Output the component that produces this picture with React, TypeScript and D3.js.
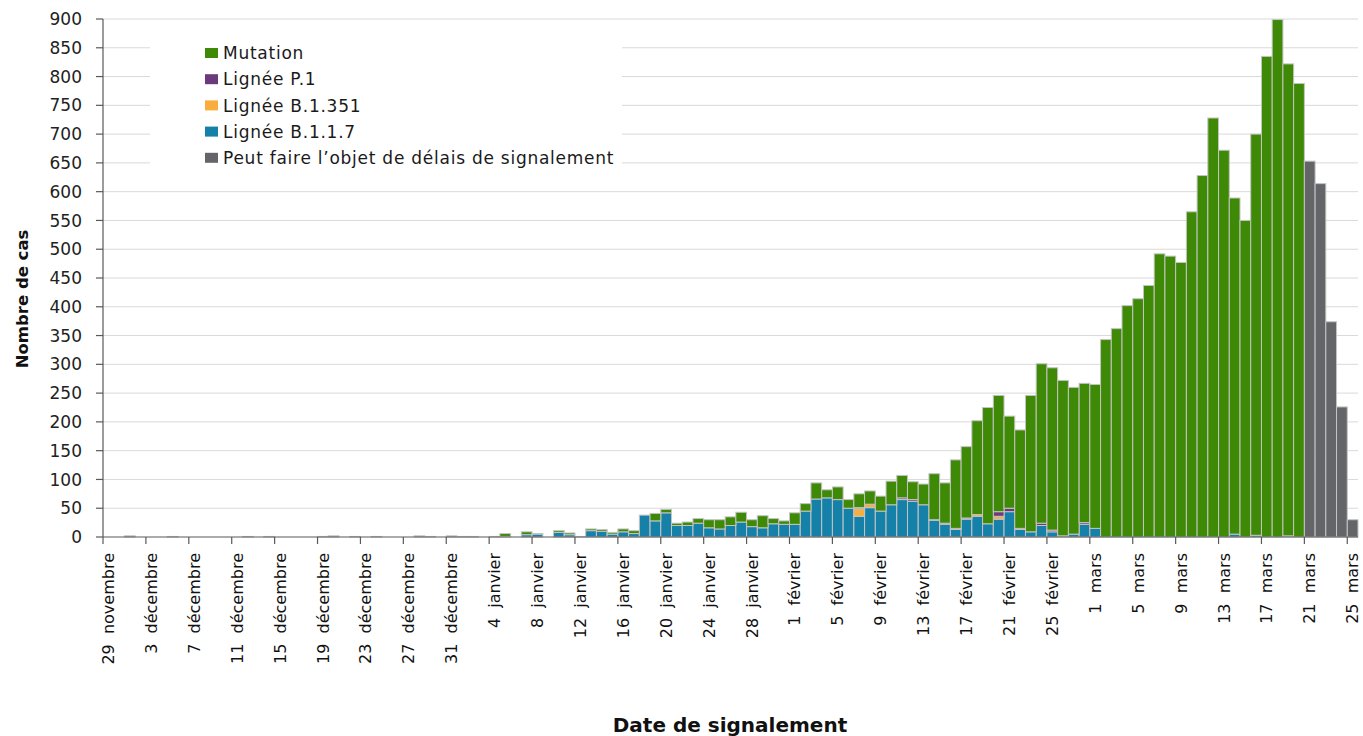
import React from 'react';
import * as d3 from 'd3';

// Daily counts, 29 novembre 2020 -> 25 mars 2021 (117 days)
const startDay = new Date(2020, 10, 29);
const dayCount = 117;

const monthNames = ['janvier', 'février', 'mars', 'avril', 'mai', 'juin', 'juillet', 'août', 'septembre', 'octobre', 'novembre', 'décembre'];

const b117 = [
  0, 0, 2, 0, 0, 0, 1, 0, 0, 0,
  0, 0, 0, 1, 0, 1, 0, 0, 0, 0,
  1, 2, 0, 1, 0, 1, 0, 0, 0, 2,
  1, 0, 2, 1, 1, 0, 1, 1, 0, 4,
  5, 0, 8, 4, 1, 11, 10, 5, 9, 6,
  38, 28, 42, 20, 20, 24, 16, 14, 20, 26,
  18, 16, 23, 22, 22, 45, 66, 68, 65, 50,
  36, 51, 45, 56, 65, 62, 56, 29, 22, 13,
  31, 36, 23, 31, 44, 13, 9, 20, 9, 2,
  5, 22, 15, 0, 0, 0, 0, 0, 0, 0,
  0, 0, 0, 0, 0, 5, 0, 3, 0, 0,
  2, 0, 0, 0, 0, 0, 0,
];

const b1351 = [
  0, 0, 0, 0, 0, 0, 0, 0, 0, 0,
  0, 0, 0, 0, 0, 0, 0, 0, 0, 0,
  0, 0, 0, 0, 0, 0, 0, 0, 0, 0,
  0, 0, 0, 0, 0, 0, 0, 0, 0, 0,
  0, 0, 0, 0, 0, 0, 0, 0, 0, 0,
  0, 0, 0, 0, 0, 0, 0, 0, 0, 0,
  0, 0, 0, 0, 0, 0, 0, 0, 0, 0,
  13, 6, 0, 0, 0, 0, 0, 0, 0, 0,
  0, 3, 0, 5, 0, 0, 0, 0, 0, 0,
  0, 0, 0, 0, 0, 0, 0, 0, 0, 0,
  0, 0, 0, 0, 0, 0, 0, 0, 0, 0,
  0, 0, 0, 0, 0, 0, 0,
];

const p1 = [
  0, 0, 0, 0, 0, 0, 0, 0, 0, 0,
  0, 0, 0, 0, 0, 0, 0, 0, 0, 0,
  0, 0, 0, 0, 0, 0, 0, 0, 0, 0,
  0, 0, 0, 0, 0, 0, 0, 0, 0, 0,
  0, 0, 0, 0, 0, 0, 0, 0, 0, 0,
  0, 0, 0, 0, 0, 0, 0, 0, 0, 0,
  0, 0, 0, 0, 0, 0, 0, 0, 0, 0,
  2, 0, 0, 0, 3, 3, 0, 1, 2, 2,
  2, 0, 0, 8, 6, 2, 0, 4, 3, 0,
  0, 3, 0, 0, 0, 0, 0, 0, 0, 0,
  0, 0, 0, 0, 0, 0, 0, 0, 0, 0,
  0, 0, 0, 0, 0, 0, 0,
];

const mutation = [
  0, 0, 0, 0, 0, 0, 0, 0, 0, 0,
  0, 0, 0, 0, 0, 0, 0, 0, 0, 0,
  0, 0, 0, 0, 0, 0, 0, 0, 0, 0,
  0, 0, 0, 0, 0, 0, 0, 5, 0, 5,
  1, 0, 3, 3, 0, 3, 3, 3, 5, 5,
  0, 13, 6, 4, 6, 8, 14, 16, 15, 17,
  12, 21, 9, 6, 20, 13, 28, 14, 22, 15,
  24, 23, 26, 41, 39, 31, 36, 80, 70, 119,
  124, 163, 202, 202, 160, 171, 237, 277, 282, 270,
  255, 242, 250, 343, 362, 402, 414, 437, 492, 488,
  477, 565, 628, 728, 672, 584, 550, 697, 835, 899,
  820, 788, 0, 0, 0, 0, 0,
];

const delay = [
  0, 0, 0, 0, 0, 0, 0, 0, 0, 0,
  0, 0, 0, 0, 0, 0, 0, 0, 0, 0,
  0, 0, 0, 0, 0, 0, 0, 0, 0, 0,
  0, 0, 0, 0, 0, 0, 0, 0, 0, 0,
  0, 0, 0, 0, 0, 0, 0, 0, 0, 0,
  0, 0, 0, 0, 0, 0, 0, 0, 0, 0,
  0, 0, 0, 0, 0, 0, 0, 0, 0, 0,
  0, 0, 0, 0, 0, 0, 0, 0, 0, 0,
  0, 0, 0, 0, 0, 0, 0, 0, 0, 0,
  0, 0, 0, 0, 0, 0, 0, 0, 0, 0,
  0, 0, 0, 0, 0, 0, 0, 0, 0, 0,
  0, 0, 653, 614, 374, 226, 30,
];

const seriesKeys = ['b117', 'b1351', 'p1', 'mutation', 'delay'];
const seriesColors: Record<string, string> = {
  b117: '#1581a9',
  b1351: '#f8ad3c',
  p1: '#6a3a7c',
  mutation: '#3e8905',
  delay: '#646569',
};
const legendItems = [
  { key: 'mutation', label: 'Mutation' },
  { key: 'p1', label: 'Lignée P.1' },
  { key: 'b1351', label: 'Lignée B.1.351' },
  { key: 'b117', label: 'Lignée B.1.1.7' },
  { key: 'delay', label: 'Peut faire l\u2019objet de délais de signalement' },
];

const FONT = '"DejaVu Sans", sans-serif';

export default function App() {
  const W = 1363;
  const H = 736;
  const left = 103, right = 1358, top = 19, bottom = 537;

  const days = d3.timeDay.range(startDay, d3.timeDay.offset(startDay, dayCount));
  const rows = days.map((d, i) => ({
    i,
    date: d,
    b117: b117[i],
    b1351: b1351[i],
    p1: p1[i],
    mutation: mutation[i],
    delay: delay[i],
  }));

  const x = d3.scaleBand<number>().domain(d3.range(dayCount)).range([left, right]).padding(0);
  const y = d3.scaleLinear().domain([0, 900]).range([bottom, top]);
  const bw = x.bandwidth();

  const stacked = d3.stack<any>().keys(seriesKeys)(rows);
  const yTicks = y.ticks(18);
  const labelIdx = d3.range(0, dayCount, 4);

  return (
    <svg width={W} height={H} style={{ position: 'absolute', left: 0, top: 0, background: '#fff' }}>
      {/* gridlines */}
      {yTicks.filter(t => t > 0).map(t => (
        <line key={t} x1={left} x2={right} y1={y(t)} y2={y(t)} stroke="#d9d9d9" strokeWidth={1} />
      ))}

      {/* bars */}
      {stacked.map(layer => (
        <g key={layer.key} fill={seriesColors[layer.key]}>
          {layer.map((seg, i) => {
            const h = y(seg[0]) - y(seg[1]);
            if (h <= 0) return null;
            return (
              <rect key={i} x={x(i)!} y={y(seg[1])} width={bw} height={h}
                stroke="#c4c4c4" strokeWidth={1} />
            );
          })}
        </g>
      ))}

      {/* y axis */}
      <line x1={left} x2={left} y1={top} y2={bottom} stroke="#595959" strokeWidth={1.2} />
      {yTicks.map(t => (
        <g key={t} transform={`translate(0,${y(t)})`}>
          <line x1={left - 7} x2={left} stroke="#595959" strokeWidth={1.2} />
          <text x={82} dy="0.36em" textAnchor="end" fontFamily={FONT} fontSize={17} fill="#222">{t}</text>
        </g>
      ))}

      {/* x axis */}
      <line x1={left} x2={right} y1={bottom} y2={bottom} stroke="#595959" strokeWidth={1.2} />
      {labelIdx.map(i => (
        <line key={i} x1={x(i)!} x2={x(i)!} y1={bottom} y2={bottom + 7} stroke="#595959" strokeWidth={1.2} />
      ))}
      {labelIdx.map(i => {
        const d = rows[i].date;
        const cx = x(i)! + bw / 2;
        return (
          <text key={i} transform={`translate(${cx},553) rotate(-90)`} dy="0.35em" textAnchor="end"
            fontFamily={FONT} fontSize={16} fill="#111">
            {`${d.getDate()}\u00a0\u00a0${monthNames[d.getMonth()]}`}
          </text>
        );
      })}

      {/* axis titles */}
      <text transform="translate(28,299) rotate(-90)" textAnchor="middle" fontFamily={FONT}
        fontWeight="bold" fontSize={16.5} fill="#111">Nombre de cas</text>
      <text x={730} y={732} textAnchor="middle" fontFamily={FONT} fontWeight="bold" fontSize={20} fill="#111">
        Date de signalement
      </text>

      {/* legend */}
      <rect x={150} y={27} width={472} height={156} fill="#fff" />
      {legendItems.map((it, k) => (
        <g key={it.key} transform={`translate(205,${53 + k * 26.2})`}>
          <rect x={0} y={-5} width={13} height={10} fill={seriesColors[it.key]} />
          <text x={18} dy="0.36em" fontFamily={FONT} fontSize={17} letterSpacing={0.75} fill="#1a1a1a">{it.label}</text>
        </g>
      ))}
    </svg>
  );
}
